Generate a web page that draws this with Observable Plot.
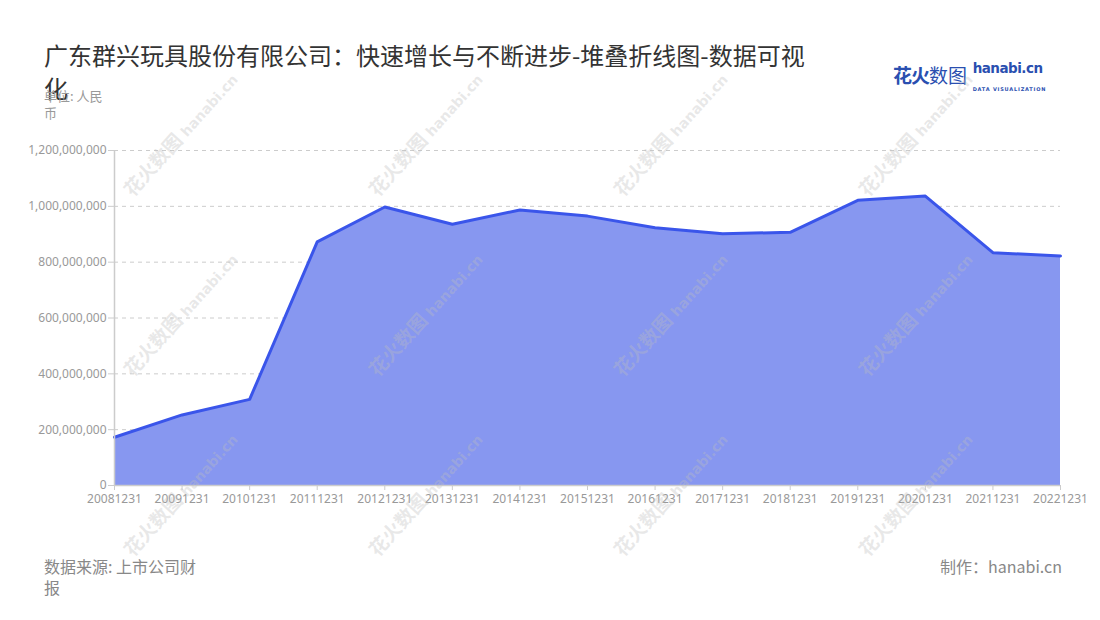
<!DOCTYPE html>
<html>
<head>
<meta charset="utf-8">
<script src="https://cdn.jsdelivr.net/npm/d3@7"></script>
<script src="https://cdn.jsdelivr.net/npm/@observablehq/plot@0.6"></script>
<style>
  html, body { margin: 0; padding: 0; background: #fff; }
  body { width: 1100px; height: 620px; position: relative; overflow: hidden;
         font-family: "Noto Sans CJK SC", "Noto Sans", sans-serif; }
  .abs { position: absolute; }
  #title { left: 44px; top: 38px; width: 775px; font-size: 24px; line-height: 33px; color: #333; }
  #unit { left: 44px; top: 87px; width: 70px; font-size: 13px; line-height: 17px; color: #999; }
  #source { left: 44px; top: 556px; width: 165px; font-size: 16px; line-height: 21px; color: #888; }
  #maker { right: 38px; top: 556px; font-size: 16px; line-height: 21px; color: #888; }
  #chart { left: 0; top: 130px; }
  #logo { left: 893px; top: 58px; white-space: nowrap; }
  .wm { position: absolute; color: rgba(190,190,190,0.35); font-size: 19px; font-weight: bold;
        transform: rotate(-48deg); transform-origin: center; white-space: nowrap; pointer-events: none; }
  .wm span { font-family: "DejaVu Sans", sans-serif; font-size: 14px; margin-left: 5px; }
</style>
</head>
<body>
<div id="title" class="abs">广东群兴玩具股份有限公司：快速增长与不断进步-堆叠折线图-数据可视化</div>
<div id="unit" class="abs">单位: 人民币</div>
<div id="logo" class="abs">
  <span style="font-size:19px;font-weight:bold;color:#2a4fb0;letter-spacing:-1px;vertical-align:middle;">花火</span><span style="font-size:19px;color:#2a4fb0;vertical-align:middle;">数图</span>
  <span style="display:inline-block;vertical-align:middle;margin-left:2px;line-height:1;">
    <span style="font-family:'DejaVu Sans',sans-serif;font-size:13.5px;font-weight:bold;color:#2a4fb0;letter-spacing:-0.5px;">hanabi.cn</span><br>
    <span style="font-family:'DejaVu Sans',sans-serif;font-size:5px;font-weight:bold;color:#2a4fb0;letter-spacing:0.8px;">DATA VISUALIZATION</span>
  </span>
</div>
<div id="chart" class="abs"></div>
<div id="source" class="abs">数据来源: 上市公司财报</div>
<div id="maker" class="abs">制作：hanabi.cn</div>
<script>
const dates = ["20081231","20091231","20101231","20111231","20121231","20131231","20141231","20151231","20161231","20171231","20181231","20191231","20201231","20211231","20221231"];
const values = [172700000, 252800000, 308500000, 872400000, 997500000, 935600000, 987000000, 965000000, 923500000, 902000000, 907000000, 1021500000, 1036800000, 834000000, 822000000];
const yTicks = [0, 200000000, 400000000, 600000000, 800000000, 1000000000, 1200000000];

const data = dates.map((d, i) => ({date: d, value: values[i]}));

const chart = Plot.plot({
  width: 1100,
  height: 390,
  marginTop: 20,
  marginBottom: 35,
  marginLeft: 114,
  marginRight: 40,
  style: {fontFamily: "'Noto Sans', 'Noto Sans CJK SC', sans-serif", fontSize: "12px", color: "#999", background: "transparent"},
  x: {type: "point", domain: dates, range: [114, 1060], padding: 0, round: false},
  y: {domain: [0, 1200000000]},
  marks: [
    Plot.gridY(yTicks, {stroke: "#ccc", strokeOpacity: 1, strokeDasharray: "4,4"}),
    Plot.areaY(data, {x: "date", y: "value", fill: "#8797f0", curve: "linear"}),
    Plot.lineY(data, {x: "date", y: "value", stroke: "#3a55ea", strokeWidth: 3, curve: "linear"}),
    Plot.ruleX([dates[0]], {stroke: "#ccc", strokeWidth: 1.5}),
    Plot.ruleY([0], {stroke: "#ccc", strokeWidth: 1.5}),
    Plot.axisY(yTicks, {tickFormat: d3.format(","), tickSize: 6, tickPadding: 2, stroke: "#ccc", fill: "#999", label: null}),
    Plot.axisX({tickSize: 5, tickPadding: 4, stroke: "#ccc", fill: "#999", label: null})
  ]
});
document.getElementById("chart").appendChild(chart);

// faint watermarks
const wmCols = [180, 425, 670, 915];
const wmRows = [132, 312, 492];
for (const cy of wmRows) {
  for (const cx of wmCols) {
    const d = document.createElement("div");
    d.className = "wm";
    d.innerHTML = "花火数图<span>hanabi.cn</span>";
    d.style.left = (cx - 80) + "px";
    d.style.top = (cy - 13) + "px";
    d.style.width = "160px";
    document.body.appendChild(d);
  }
}
</script>
</body>
</html>
